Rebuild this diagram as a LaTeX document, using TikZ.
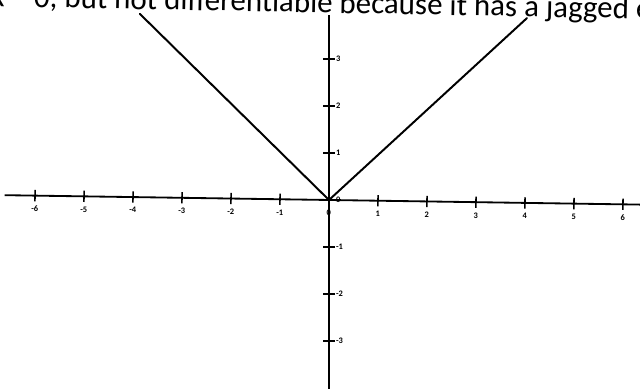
\documentclass[tikz,border=0pt]{standalone}
\usepackage{fontspec}
\setmainfont{Carlito}
\usetikzlibrary{positioning}

\begin{document}
\begin{tikzpicture}[
    x=1.225cm, y=1.175cm,
    axis/.style={line width=1.3pt, black},
    graph/.style={line width=1.4pt, black, line cap=round},
    tick/.style={line width=1.1pt, black},
    num/.style={font=\fontsize{6}{7}\selectfont\bfseries, inner sep=0pt}
  ]
  \useasboundingbox (-6.714,-4.021) rectangle (6.347,4.255);
  \clip (-6.714,-4.021) rectangle (6.347,4.255);
  % caption line, cut at the top edge as in the scan
  \node[anchor=base west, font=\fontsize{22}{25}\selectfont, inner sep=0pt, rotate=-1.1]
    (note) at (-6.90,4.12) {x = 0, but not differentiable because it has a jagged edge};
  \coordinate (o) at (0,0);
  % x axis, a little slanted as in the scan
  \begin{scope}[rotate=-0.85]
    \draw[axis] (-6.62,0) -- (6.6,0);
    \foreach \i in {-6,...,-1,1,2,...,6} {
      \draw[tick] (\i,-0.12) -- (\i,0.12);
      \node[num] (x\i) at (\i,-0.28) {\i};
    }
    \node[num] (x0) at (0,-0.28) {0};
  \end{scope}
  % y axis
  \draw[axis] (0,-4.1) -- (0,3.94);
  \foreach \j in {-3,-2,-1,1,2,3} {
    \draw[tick] (-0.12,\j) -- (0.12,\j);
    \node[num, anchor=west] (y\j) at (0.14,\j) {\j};
  }
  \node[num, anchor=west] (y0) at (0.14,0) {0};
  % y = |x|
  \coordinate (lt) at (-3.86,3.96);
  \coordinate (rt) at (4.04,3.87);
  \draw[graph] (lt) -- (o) -- (rt);
\end{tikzpicture}
\end{document}
